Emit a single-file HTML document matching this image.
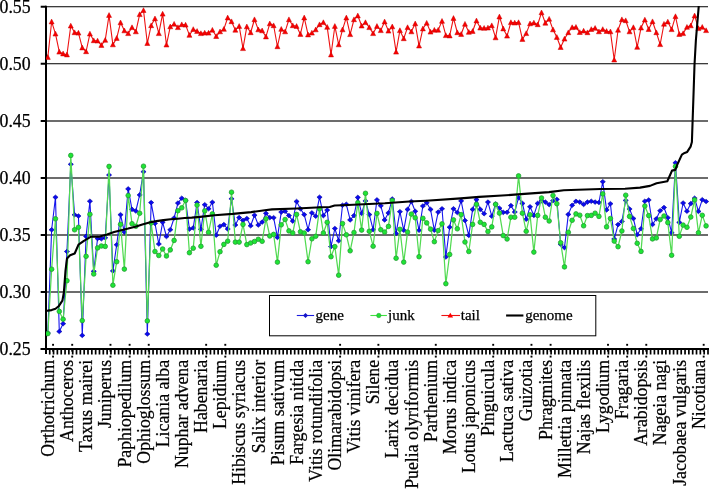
<!DOCTYPE html><html><head><meta charset="utf-8"><style>html,body{margin:0;padding:0;background:#fff;}svg{display:block;}text{font-family:'Liberation Serif', serif;stroke:#000;stroke-width:0.25px;}svg{will-change:transform;}</style></head><body>
<svg width="709" height="489" viewBox="0 0 709 489">
<rect width="709" height="489" fill="#fff"/>
<defs><clipPath id="pa"><rect x="46" y="6.10" width="663.00" height="348.40"/></clipPath></defs>
<rect x="47" y="6.240" width="661.0" height="1.0" fill="#000"/>
<rect x="47" y="63.240" width="661.0" height="1.0" fill="#000"/>
<rect x="47" y="120.425" width="661.0" height="1.15" fill="#000"/>
<rect x="47" y="177.425" width="661.0" height="1.15" fill="#000"/>
<rect x="47" y="234.425" width="661.0" height="1.15" fill="#000"/>
<rect x="47" y="291.425" width="661.0" height="1.15" fill="#000"/>
<text x="30.6" y="12.84" font-size="17.8" text-anchor="end" fill="#000">0.55</text>
<text x="30.6" y="69.84" font-size="17.8" text-anchor="end" fill="#000">0.50</text>
<text x="30.6" y="127.10" font-size="17.8" text-anchor="end" fill="#000">0.45</text>
<text x="30.6" y="184.10" font-size="17.8" text-anchor="end" fill="#000">0.40</text>
<text x="30.6" y="241.10" font-size="17.8" text-anchor="end" fill="#000">0.35</text>
<text x="30.6" y="298.10" font-size="17.8" text-anchor="end" fill="#000">0.30</text>
<text x="30.6" y="355.10" font-size="17.8" text-anchor="end" fill="#000">0.25</text>
<line x1="46" y1="5.80" x2="46" y2="354" stroke="#000" stroke-width="2"/>
<line x1="40.7" y1="6.74" x2="46" y2="6.74" stroke="#000" stroke-width="2"/>
<line x1="40.7" y1="63.74" x2="46" y2="63.74" stroke="#000" stroke-width="2"/>
<line x1="40.7" y1="121.00" x2="46" y2="121.00" stroke="#000" stroke-width="2"/>
<line x1="40.7" y1="178.00" x2="46" y2="178.00" stroke="#000" stroke-width="2"/>
<line x1="40.7" y1="235.00" x2="46" y2="235.00" stroke="#000" stroke-width="2"/>
<line x1="40.7" y1="292.00" x2="46" y2="292.00" stroke="#000" stroke-width="2"/>
<line x1="40.7" y1="349.00" x2="46" y2="349.00" stroke="#000" stroke-width="2"/>
<line x1="40.7" y1="349.0" x2="709" y2="349.0" stroke="#000" stroke-width="2"/>
<path d="M49.73 349.0V354.6 M53.55 349.0V354.6 M57.38 349.0V354.6 M61.21 349.0V354.6 M65.04 349.0V354.6 M68.86 349.0V354.6 M72.69 349.0V354.6 M76.52 349.0V354.6 M80.34 349.0V354.6 M84.17 349.0V354.6 M88.00 349.0V354.6 M91.83 349.0V354.6 M95.65 349.0V354.6 M99.48 349.0V354.6 M103.31 349.0V354.6 M107.13 349.0V354.6 M110.96 349.0V354.6 M114.79 349.0V354.6 M118.62 349.0V354.6 M122.44 349.0V354.6 M126.27 349.0V354.6 M130.10 349.0V354.6 M133.92 349.0V354.6 M137.75 349.0V354.6 M141.58 349.0V354.6 M145.41 349.0V354.6 M149.23 349.0V354.6 M153.06 349.0V354.6 M156.89 349.0V354.6 M160.72 349.0V354.6 M164.54 349.0V354.6 M168.37 349.0V354.6 M172.20 349.0V354.6 M176.02 349.0V354.6 M179.85 349.0V354.6 M183.68 349.0V354.6 M187.51 349.0V354.6 M191.33 349.0V354.6 M195.16 349.0V354.6 M198.99 349.0V354.6 M202.81 349.0V354.6 M206.64 349.0V354.6 M210.47 349.0V354.6 M214.30 349.0V354.6 M218.12 349.0V354.6 M221.95 349.0V354.6 M225.78 349.0V354.6 M229.60 349.0V354.6 M233.43 349.0V354.6 M237.26 349.0V354.6 M241.09 349.0V354.6 M244.91 349.0V354.6 M248.74 349.0V354.6 M252.57 349.0V354.6 M256.39 349.0V354.6 M260.22 349.0V354.6 M264.05 349.0V354.6 M267.88 349.0V354.6 M271.70 349.0V354.6 M275.53 349.0V354.6 M279.36 349.0V354.6 M283.18 349.0V354.6 M287.01 349.0V354.6 M290.84 349.0V354.6 M294.67 349.0V354.6 M298.49 349.0V354.6 M302.32 349.0V354.6 M306.15 349.0V354.6 M309.97 349.0V354.6 M313.80 349.0V354.6 M317.63 349.0V354.6 M321.46 349.0V354.6 M325.28 349.0V354.6 M329.11 349.0V354.6 M332.94 349.0V354.6 M336.76 349.0V354.6 M340.59 349.0V354.6 M344.42 349.0V354.6 M348.25 349.0V354.6 M352.07 349.0V354.6 M355.90 349.0V354.6 M359.73 349.0V354.6 M363.55 349.0V354.6 M367.38 349.0V354.6 M371.21 349.0V354.6 M375.04 349.0V354.6 M378.86 349.0V354.6 M382.69 349.0V354.6 M386.52 349.0V354.6 M390.35 349.0V354.6 M394.17 349.0V354.6 M398.00 349.0V354.6 M401.83 349.0V354.6 M405.65 349.0V354.6 M409.48 349.0V354.6 M413.31 349.0V354.6 M417.14 349.0V354.6 M420.96 349.0V354.6 M424.79 349.0V354.6 M428.62 349.0V354.6 M432.44 349.0V354.6 M436.27 349.0V354.6 M440.10 349.0V354.6 M443.93 349.0V354.6 M447.75 349.0V354.6 M451.58 349.0V354.6 M455.41 349.0V354.6 M459.23 349.0V354.6 M463.06 349.0V354.6 M466.89 349.0V354.6 M470.72 349.0V354.6 M474.54 349.0V354.6 M478.37 349.0V354.6 M482.20 349.0V354.6 M486.02 349.0V354.6 M489.85 349.0V354.6 M493.68 349.0V354.6 M497.51 349.0V354.6 M501.33 349.0V354.6 M505.16 349.0V354.6 M508.99 349.0V354.6 M512.81 349.0V354.6 M516.64 349.0V354.6 M520.47 349.0V354.6 M524.30 349.0V354.6 M528.12 349.0V354.6 M531.95 349.0V354.6 M535.78 349.0V354.6 M539.60 349.0V354.6 M543.43 349.0V354.6 M547.26 349.0V354.6 M551.09 349.0V354.6 M554.91 349.0V354.6 M558.74 349.0V354.6 M562.57 349.0V354.6 M566.39 349.0V354.6 M570.22 349.0V354.6 M574.05 349.0V354.6 M577.88 349.0V354.6 M581.70 349.0V354.6 M585.53 349.0V354.6 M589.36 349.0V354.6 M593.18 349.0V354.6 M597.01 349.0V354.6 M600.84 349.0V354.6 M604.67 349.0V354.6 M608.49 349.0V354.6 M612.32 349.0V354.6 M616.15 349.0V354.6 M619.98 349.0V354.6 M623.80 349.0V354.6 M627.63 349.0V354.6 M631.46 349.0V354.6 M635.28 349.0V354.6 M639.11 349.0V354.6 M642.94 349.0V354.6 M646.77 349.0V354.6 M650.59 349.0V354.6 M654.42 349.0V354.6 M658.25 349.0V354.6 M662.07 349.0V354.6 M665.90 349.0V354.6 M669.73 349.0V354.6 M673.56 349.0V354.6 M677.38 349.0V354.6 M681.21 349.0V354.6 M685.04 349.0V354.6 M688.86 349.0V354.6 M692.69 349.0V354.6 M696.52 349.0V354.6 M700.35 349.0V354.6 M704.17 349.0V354.6 M708.00 349.0V354.6" stroke="#000" stroke-width="1.7" fill="none"/>
<g clip-path="url(#pa)">
<polyline points="47.81,333.00 51.64,229.80 55.47,197.30 59.30,331.50 63.12,323.70 66.95,251.50 70.78,164.30 74.60,214.80 78.43,216.00 82.26,335.40 86.09,236.40 89.91,201.20 93.74,271.30 97.57,238.50 101.39,238.80 105.22,237.80 109.05,175.00 112.88,270.90 116.70,244.80 120.53,214.70 124.36,232.10 128.18,188.90 132.01,209.40 135.84,211.00 139.67,194.90 143.49,171.70 147.32,334.00 151.15,202.60 154.97,223.40 158.80,244.00 162.63,222.30 166.46,236.50 170.28,229.70 174.11,218.00 177.94,203.10 181.76,198.20 185.59,200.50 189.42,229.10 193.25,227.90 197.07,202.50 200.90,229.30 204.73,204.70 208.55,208.70 212.38,202.30 216.21,235.20 220.04,226.20 223.86,224.60 227.69,229.00 231.52,198.80 235.34,225.00 239.17,217.60 243.00,220.40 246.83,218.50 250.65,225.80 254.48,215.20 258.31,225.00 262.13,222.10 265.96,213.30 269.79,217.60 273.62,217.70 277.44,237.40 281.27,212.10 285.10,211.30 288.93,215.60 292.75,221.10 296.58,201.50 300.41,208.80 304.23,214.60 308.06,229.70 311.89,212.90 315.72,216.20 319.54,197.20 323.37,215.60 327.20,210.10 331.02,246.60 334.85,228.50 338.68,240.80 342.51,205.20 346.33,204.30 350.16,219.90 353.99,215.60 357.81,197.40 361.64,213.40 365.47,200.90 369.30,214.60 373.12,229.70 376.95,199.90 380.78,205.80 384.60,219.90 388.43,212.90 392.26,199.00 396.09,233.40 399.91,211.70 403.74,230.30 407.57,209.40 411.39,201.50 415.22,211.30 419.05,230.30 422.88,206.00 426.70,202.70 430.53,209.40 434.36,230.30 438.18,212.10 442.01,208.80 445.84,257.00 449.67,227.20 453.49,208.80 457.32,212.50 461.15,200.90 464.97,220.50 468.80,235.40 472.63,209.40 476.46,199.60 480.28,209.40 484.11,213.70 487.94,202.10 491.77,216.20 495.59,204.00 499.42,208.20 503.25,212.40 507.07,212.30 510.90,205.60 514.73,212.00 518.56,197.60 522.38,203.40 526.21,219.30 530.04,206.80 533.86,215.40 537.69,203.40 541.52,200.70 545.35,202.10 549.17,204.60 553.00,200.70 556.83,199.40 560.65,244.30 564.48,247.60 568.31,214.40 572.14,205.30 575.96,201.30 579.79,202.10 583.62,204.40 587.44,202.10 591.27,201.30 595.10,202.10 598.93,202.50 602.75,181.70 606.58,209.90 610.41,203.70 614.23,239.00 618.06,224.60 621.89,221.40 625.72,200.40 629.54,209.00 633.37,218.50 637.20,234.70 641.02,228.80 644.85,201.20 648.68,200.00 652.51,224.50 656.33,218.80 660.16,210.70 663.99,207.50 667.81,217.70 671.64,232.70 675.47,162.80 679.30,222.40 683.12,203.00 686.95,211.20 690.78,203.60 694.60,198.20 698.43,211.40 702.26,199.70 706.09,201.50" fill="none" stroke="#1515ee" stroke-width="1.1" stroke-linejoin="round"/>
<path d="M47.81 330.70L50.41 333.00L47.81 335.30L45.21 333.00ZM51.64 227.50L54.24 229.80L51.64 232.10L49.04 229.80ZM55.47 195.00L58.07 197.30L55.47 199.60L52.87 197.30ZM59.30 329.20L61.90 331.50L59.30 333.80L56.70 331.50ZM63.12 321.40L65.72 323.70L63.12 326.00L60.52 323.70ZM66.95 249.20L69.55 251.50L66.95 253.80L64.35 251.50ZM70.78 162.00L73.38 164.30L70.78 166.60L68.18 164.30ZM74.60 212.50L77.20 214.80L74.60 217.10L72.00 214.80ZM78.43 213.70L81.03 216.00L78.43 218.30L75.83 216.00ZM82.26 333.10L84.86 335.40L82.26 337.70L79.66 335.40ZM86.09 234.10L88.69 236.40L86.09 238.70L83.49 236.40ZM89.91 198.90L92.51 201.20L89.91 203.50L87.31 201.20ZM93.74 269.00L96.34 271.30L93.74 273.60L91.14 271.30ZM97.57 236.20L100.17 238.50L97.57 240.80L94.97 238.50ZM101.39 236.50L103.99 238.80L101.39 241.10L98.79 238.80ZM105.22 235.50L107.82 237.80L105.22 240.10L102.62 237.80ZM109.05 172.70L111.65 175.00L109.05 177.30L106.45 175.00ZM112.88 268.60L115.48 270.90L112.88 273.20L110.28 270.90ZM116.70 242.50L119.30 244.80L116.70 247.10L114.10 244.80ZM120.53 212.40L123.13 214.70L120.53 217.00L117.93 214.70ZM124.36 229.80L126.96 232.10L124.36 234.40L121.76 232.10ZM128.18 186.60L130.78 188.90L128.18 191.20L125.58 188.90ZM132.01 207.10L134.61 209.40L132.01 211.70L129.41 209.40ZM135.84 208.70L138.44 211.00L135.84 213.30L133.24 211.00ZM139.67 192.60L142.27 194.90L139.67 197.20L137.07 194.90ZM143.49 169.40L146.09 171.70L143.49 174.00L140.89 171.70ZM147.32 331.70L149.92 334.00L147.32 336.30L144.72 334.00ZM151.15 200.30L153.75 202.60L151.15 204.90L148.55 202.60ZM154.97 221.10L157.57 223.40L154.97 225.70L152.37 223.40ZM158.80 241.70L161.40 244.00L158.80 246.30L156.20 244.00ZM162.63 220.00L165.23 222.30L162.63 224.60L160.03 222.30ZM166.46 234.20L169.06 236.50L166.46 238.80L163.86 236.50ZM170.28 227.40L172.88 229.70L170.28 232.00L167.68 229.70ZM174.11 215.70L176.71 218.00L174.11 220.30L171.51 218.00ZM177.94 200.80L180.54 203.10L177.94 205.40L175.34 203.10ZM181.76 195.90L184.36 198.20L181.76 200.50L179.16 198.20ZM185.59 198.20L188.19 200.50L185.59 202.80L182.99 200.50ZM189.42 226.80L192.02 229.10L189.42 231.40L186.82 229.10ZM193.25 225.60L195.85 227.90L193.25 230.20L190.65 227.90ZM197.07 200.20L199.67 202.50L197.07 204.80L194.47 202.50ZM200.90 227.00L203.50 229.30L200.90 231.60L198.30 229.30ZM204.73 202.40L207.33 204.70L204.73 207.00L202.13 204.70ZM208.55 206.40L211.15 208.70L208.55 211.00L205.95 208.70ZM212.38 200.00L214.98 202.30L212.38 204.60L209.78 202.30ZM216.21 232.90L218.81 235.20L216.21 237.50L213.61 235.20ZM220.04 223.90L222.64 226.20L220.04 228.50L217.44 226.20ZM223.86 222.30L226.46 224.60L223.86 226.90L221.26 224.60ZM227.69 226.70L230.29 229.00L227.69 231.30L225.09 229.00ZM231.52 196.50L234.12 198.80L231.52 201.10L228.92 198.80ZM235.34 222.70L237.94 225.00L235.34 227.30L232.74 225.00ZM239.17 215.30L241.77 217.60L239.17 219.90L236.57 217.60ZM243.00 218.10L245.60 220.40L243.00 222.70L240.40 220.40ZM246.83 216.20L249.43 218.50L246.83 220.80L244.23 218.50ZM250.65 223.50L253.25 225.80L250.65 228.10L248.05 225.80ZM254.48 212.90L257.08 215.20L254.48 217.50L251.88 215.20ZM258.31 222.70L260.91 225.00L258.31 227.30L255.71 225.00ZM262.13 219.80L264.73 222.10L262.13 224.40L259.53 222.10ZM265.96 211.00L268.56 213.30L265.96 215.60L263.36 213.30ZM269.79 215.30L272.39 217.60L269.79 219.90L267.19 217.60ZM273.62 215.40L276.22 217.70L273.62 220.00L271.02 217.70ZM277.44 235.10L280.04 237.40L277.44 239.70L274.84 237.40ZM281.27 209.80L283.87 212.10L281.27 214.40L278.67 212.10ZM285.10 209.00L287.70 211.30L285.10 213.60L282.50 211.30ZM288.93 213.30L291.53 215.60L288.93 217.90L286.33 215.60ZM292.75 218.80L295.35 221.10L292.75 223.40L290.15 221.10ZM296.58 199.20L299.18 201.50L296.58 203.80L293.98 201.50ZM300.41 206.50L303.01 208.80L300.41 211.10L297.81 208.80ZM304.23 212.30L306.83 214.60L304.23 216.90L301.63 214.60ZM308.06 227.40L310.66 229.70L308.06 232.00L305.46 229.70ZM311.89 210.60L314.49 212.90L311.89 215.20L309.29 212.90ZM315.72 213.90L318.32 216.20L315.72 218.50L313.12 216.20ZM319.54 194.90L322.14 197.20L319.54 199.50L316.94 197.20ZM323.37 213.30L325.97 215.60L323.37 217.90L320.77 215.60ZM327.20 207.80L329.80 210.10L327.20 212.40L324.60 210.10ZM331.02 244.30L333.62 246.60L331.02 248.90L328.42 246.60ZM334.85 226.20L337.45 228.50L334.85 230.80L332.25 228.50ZM338.68 238.50L341.28 240.80L338.68 243.10L336.08 240.80ZM342.51 202.90L345.11 205.20L342.51 207.50L339.91 205.20ZM346.33 202.00L348.93 204.30L346.33 206.60L343.73 204.30ZM350.16 217.60L352.76 219.90L350.16 222.20L347.56 219.90ZM353.99 213.30L356.59 215.60L353.99 217.90L351.39 215.60ZM357.81 195.10L360.41 197.40L357.81 199.70L355.21 197.40ZM361.64 211.10L364.24 213.40L361.64 215.70L359.04 213.40ZM365.47 198.60L368.07 200.90L365.47 203.20L362.87 200.90ZM369.30 212.30L371.90 214.60L369.30 216.90L366.70 214.60ZM373.12 227.40L375.72 229.70L373.12 232.00L370.52 229.70ZM376.95 197.60L379.55 199.90L376.95 202.20L374.35 199.90ZM380.78 203.50L383.38 205.80L380.78 208.10L378.18 205.80ZM384.60 217.60L387.20 219.90L384.60 222.20L382.00 219.90ZM388.43 210.60L391.03 212.90L388.43 215.20L385.83 212.90ZM392.26 196.70L394.86 199.00L392.26 201.30L389.66 199.00ZM396.09 231.10L398.69 233.40L396.09 235.70L393.49 233.40ZM399.91 209.40L402.51 211.70L399.91 214.00L397.31 211.70ZM403.74 228.00L406.34 230.30L403.74 232.60L401.14 230.30ZM407.57 207.10L410.17 209.40L407.57 211.70L404.97 209.40ZM411.39 199.20L413.99 201.50L411.39 203.80L408.79 201.50ZM415.22 209.00L417.82 211.30L415.22 213.60L412.62 211.30ZM419.05 228.00L421.65 230.30L419.05 232.60L416.45 230.30ZM422.88 203.70L425.48 206.00L422.88 208.30L420.28 206.00ZM426.70 200.40L429.30 202.70L426.70 205.00L424.10 202.70ZM430.53 207.10L433.13 209.40L430.53 211.70L427.93 209.40ZM434.36 228.00L436.96 230.30L434.36 232.60L431.76 230.30ZM438.18 209.80L440.78 212.10L438.18 214.40L435.58 212.10ZM442.01 206.50L444.61 208.80L442.01 211.10L439.41 208.80ZM445.84 254.70L448.44 257.00L445.84 259.30L443.24 257.00ZM449.67 224.90L452.27 227.20L449.67 229.50L447.07 227.20ZM453.49 206.50L456.09 208.80L453.49 211.10L450.89 208.80ZM457.32 210.20L459.92 212.50L457.32 214.80L454.72 212.50ZM461.15 198.60L463.75 200.90L461.15 203.20L458.55 200.90ZM464.97 218.20L467.57 220.50L464.97 222.80L462.37 220.50ZM468.80 233.10L471.40 235.40L468.80 237.70L466.20 235.40ZM472.63 207.10L475.23 209.40L472.63 211.70L470.03 209.40ZM476.46 197.30L479.06 199.60L476.46 201.90L473.86 199.60ZM480.28 207.10L482.88 209.40L480.28 211.70L477.68 209.40ZM484.11 211.40L486.71 213.70L484.11 216.00L481.51 213.70ZM487.94 199.80L490.54 202.10L487.94 204.40L485.34 202.10ZM491.77 213.90L494.37 216.20L491.77 218.50L489.17 216.20ZM495.59 201.70L498.19 204.00L495.59 206.30L492.99 204.00ZM499.42 205.90L502.02 208.20L499.42 210.50L496.82 208.20ZM503.25 210.10L505.85 212.40L503.25 214.70L500.65 212.40ZM507.07 210.00L509.67 212.30L507.07 214.60L504.47 212.30ZM510.90 203.30L513.50 205.60L510.90 207.90L508.30 205.60ZM514.73 209.70L517.33 212.00L514.73 214.30L512.13 212.00ZM518.56 195.30L521.16 197.60L518.56 199.90L515.96 197.60ZM522.38 201.10L524.98 203.40L522.38 205.70L519.78 203.40ZM526.21 217.00L528.81 219.30L526.21 221.60L523.61 219.30ZM530.04 204.50L532.64 206.80L530.04 209.10L527.44 206.80ZM533.86 213.10L536.46 215.40L533.86 217.70L531.26 215.40ZM537.69 201.10L540.29 203.40L537.69 205.70L535.09 203.40ZM541.52 198.40L544.12 200.70L541.52 203.00L538.92 200.70ZM545.35 199.80L547.95 202.10L545.35 204.40L542.75 202.10ZM549.17 202.30L551.77 204.60L549.17 206.90L546.57 204.60ZM553.00 198.40L555.60 200.70L553.00 203.00L550.40 200.70ZM556.83 197.10L559.43 199.40L556.83 201.70L554.23 199.40ZM560.65 242.00L563.25 244.30L560.65 246.60L558.05 244.30ZM564.48 245.30L567.08 247.60L564.48 249.90L561.88 247.60ZM568.31 212.10L570.91 214.40L568.31 216.70L565.71 214.40ZM572.14 203.00L574.74 205.30L572.14 207.60L569.54 205.30ZM575.96 199.00L578.56 201.30L575.96 203.60L573.36 201.30ZM579.79 199.80L582.39 202.10L579.79 204.40L577.19 202.10ZM583.62 202.10L586.22 204.40L583.62 206.70L581.02 204.40ZM587.44 199.80L590.04 202.10L587.44 204.40L584.84 202.10ZM591.27 199.00L593.87 201.30L591.27 203.60L588.67 201.30ZM595.10 199.80L597.70 202.10L595.10 204.40L592.50 202.10ZM598.93 200.20L601.53 202.50L598.93 204.80L596.33 202.50ZM602.75 179.40L605.35 181.70L602.75 184.00L600.15 181.70ZM606.58 207.60L609.18 209.90L606.58 212.20L603.98 209.90ZM610.41 201.40L613.01 203.70L610.41 206.00L607.81 203.70ZM614.23 236.70L616.83 239.00L614.23 241.30L611.63 239.00ZM618.06 222.30L620.66 224.60L618.06 226.90L615.46 224.60ZM621.89 219.10L624.49 221.40L621.89 223.70L619.29 221.40ZM625.72 198.10L628.32 200.40L625.72 202.70L623.12 200.40ZM629.54 206.70L632.14 209.00L629.54 211.30L626.94 209.00ZM633.37 216.20L635.97 218.50L633.37 220.80L630.77 218.50ZM637.20 232.40L639.80 234.70L637.20 237.00L634.60 234.70ZM641.02 226.50L643.62 228.80L641.02 231.10L638.42 228.80ZM644.85 198.90L647.45 201.20L644.85 203.50L642.25 201.20ZM648.68 197.70L651.28 200.00L648.68 202.30L646.08 200.00ZM652.51 222.20L655.11 224.50L652.51 226.80L649.91 224.50ZM656.33 216.50L658.93 218.80L656.33 221.10L653.73 218.80ZM660.16 208.40L662.76 210.70L660.16 213.00L657.56 210.70ZM663.99 205.20L666.59 207.50L663.99 209.80L661.39 207.50ZM667.81 215.40L670.41 217.70L667.81 220.00L665.21 217.70ZM671.64 230.40L674.24 232.70L671.64 235.00L669.04 232.70ZM675.47 160.50L678.07 162.80L675.47 165.10L672.87 162.80ZM679.30 220.10L681.90 222.40L679.30 224.70L676.70 222.40ZM683.12 200.70L685.72 203.00L683.12 205.30L680.52 203.00ZM686.95 208.90L689.55 211.20L686.95 213.50L684.35 211.20ZM690.78 201.30L693.38 203.60L690.78 205.90L688.18 203.60ZM694.60 195.90L697.20 198.20L694.60 200.50L692.00 198.20ZM698.43 209.10L701.03 211.40L698.43 213.70L695.83 211.40ZM702.26 197.40L704.86 199.70L702.26 202.00L699.66 199.70ZM706.09 199.20L708.69 201.50L706.09 203.80L703.49 201.50Z" fill="#0a0af0" stroke="#0000a0" stroke-width="0.6"/>
<polyline points="47.81,333.60 51.64,269.20 55.47,218.80 59.30,311.40 63.12,319.20 66.95,280.70 70.78,155.40 74.60,229.80 78.43,227.30 82.26,320.60 86.09,256.30 89.91,214.30 93.74,274.00 97.57,247.90 101.39,246.00 105.22,246.40 109.05,166.40 112.88,285.20 116.70,261.70 120.53,224.30 124.36,269.10 128.18,195.50 132.01,223.70 135.84,226.30 139.67,213.30 143.49,166.20 147.32,320.90 151.15,223.00 154.97,251.50 158.80,255.50 162.63,249.00 166.46,256.00 170.28,249.90 174.11,240.40 177.94,210.70 181.76,207.80 185.59,200.50 189.42,252.70 193.25,248.20 197.07,205.10 200.90,246.30 204.73,210.90 208.55,232.30 212.38,213.90 216.21,265.20 220.04,251.70 223.86,244.40 227.69,241.20 231.52,192.20 235.34,242.10 239.17,242.10 243.00,224.40 246.83,244.60 250.65,243.00 254.48,241.50 258.31,239.30 262.13,241.30 265.96,218.80 269.79,236.00 273.62,234.40 277.44,262.10 281.27,224.80 285.10,219.50 288.93,230.90 292.75,233.00 296.58,214.40 300.41,231.80 304.23,233.00 308.06,261.70 311.89,238.80 315.72,236.30 319.54,208.80 323.37,233.00 327.20,222.30 331.02,256.70 334.85,246.60 338.68,275.20 342.51,223.60 346.33,234.80 350.16,250.80 353.99,232.50 357.81,202.70 361.64,230.10 365.47,193.30 369.30,231.30 373.12,246.20 376.95,213.40 380.78,229.70 384.60,232.10 388.43,226.40 392.26,200.60 396.09,258.20 399.91,229.30 403.74,262.10 407.57,232.10 411.39,214.10 415.22,217.80 419.05,256.70 422.88,218.30 426.70,222.90 430.53,229.10 434.36,241.70 438.18,230.60 442.01,223.90 445.84,283.70 449.67,254.50 453.49,219.90 457.32,228.80 461.15,214.60 464.97,242.00 468.80,251.50 472.63,224.40 476.46,204.30 480.28,222.30 484.11,224.40 487.94,231.50 491.77,226.90 495.59,204.30 499.42,213.10 503.25,235.60 507.07,239.00 510.90,217.20 514.73,217.20 518.56,175.90 522.38,213.20 526.21,231.30 530.04,214.80 533.86,252.10 537.69,215.40 541.52,198.00 545.35,217.20 549.17,221.00 553.00,195.50 556.83,203.70 560.65,242.70 564.48,266.90 568.31,232.30 572.14,220.30 575.96,213.90 579.79,215.20 583.62,225.80 587.44,215.60 591.27,215.40 595.10,213.20 598.93,216.40 602.75,193.90 606.58,226.90 610.41,218.50 614.23,241.10 618.06,246.70 621.89,231.00 625.72,195.20 629.54,216.40 633.37,228.50 637.20,243.30 641.02,251.40 644.85,206.00 648.68,215.60 652.51,238.90 656.33,237.90 660.16,219.50 663.99,216.00 667.81,222.60 671.64,255.30 675.47,166.40 679.30,236.30 683.12,225.10 686.95,227.30 690.78,217.00 694.60,199.90 698.43,232.70 702.26,215.30 706.09,225.90" fill="none" stroke="#52da52" stroke-width="1.25" stroke-linejoin="round"/>
<circle cx="47.81" cy="333.60" r="2.3" fill="#1ee634" stroke="#259a35" stroke-width="0.8"/>
<circle cx="51.64" cy="269.20" r="2.3" fill="#1ee634" stroke="#259a35" stroke-width="0.8"/>
<circle cx="55.47" cy="218.80" r="2.3" fill="#1ee634" stroke="#259a35" stroke-width="0.8"/>
<circle cx="59.30" cy="311.40" r="2.3" fill="#1ee634" stroke="#259a35" stroke-width="0.8"/>
<circle cx="63.12" cy="319.20" r="2.3" fill="#1ee634" stroke="#259a35" stroke-width="0.8"/>
<circle cx="66.95" cy="280.70" r="2.3" fill="#1ee634" stroke="#259a35" stroke-width="0.8"/>
<circle cx="70.78" cy="155.40" r="2.3" fill="#1ee634" stroke="#259a35" stroke-width="0.8"/>
<circle cx="74.60" cy="229.80" r="2.3" fill="#1ee634" stroke="#259a35" stroke-width="0.8"/>
<circle cx="78.43" cy="227.30" r="2.3" fill="#1ee634" stroke="#259a35" stroke-width="0.8"/>
<circle cx="82.26" cy="320.60" r="2.3" fill="#1ee634" stroke="#259a35" stroke-width="0.8"/>
<circle cx="86.09" cy="256.30" r="2.3" fill="#1ee634" stroke="#259a35" stroke-width="0.8"/>
<circle cx="89.91" cy="214.30" r="2.3" fill="#1ee634" stroke="#259a35" stroke-width="0.8"/>
<circle cx="93.74" cy="274.00" r="2.3" fill="#1ee634" stroke="#259a35" stroke-width="0.8"/>
<circle cx="97.57" cy="247.90" r="2.3" fill="#1ee634" stroke="#259a35" stroke-width="0.8"/>
<circle cx="101.39" cy="246.00" r="2.3" fill="#1ee634" stroke="#259a35" stroke-width="0.8"/>
<circle cx="105.22" cy="246.40" r="2.3" fill="#1ee634" stroke="#259a35" stroke-width="0.8"/>
<circle cx="109.05" cy="166.40" r="2.3" fill="#1ee634" stroke="#259a35" stroke-width="0.8"/>
<circle cx="112.88" cy="285.20" r="2.3" fill="#1ee634" stroke="#259a35" stroke-width="0.8"/>
<circle cx="116.70" cy="261.70" r="2.3" fill="#1ee634" stroke="#259a35" stroke-width="0.8"/>
<circle cx="120.53" cy="224.30" r="2.3" fill="#1ee634" stroke="#259a35" stroke-width="0.8"/>
<circle cx="124.36" cy="269.10" r="2.3" fill="#1ee634" stroke="#259a35" stroke-width="0.8"/>
<circle cx="128.18" cy="195.50" r="2.3" fill="#1ee634" stroke="#259a35" stroke-width="0.8"/>
<circle cx="132.01" cy="223.70" r="2.3" fill="#1ee634" stroke="#259a35" stroke-width="0.8"/>
<circle cx="135.84" cy="226.30" r="2.3" fill="#1ee634" stroke="#259a35" stroke-width="0.8"/>
<circle cx="139.67" cy="213.30" r="2.3" fill="#1ee634" stroke="#259a35" stroke-width="0.8"/>
<circle cx="143.49" cy="166.20" r="2.3" fill="#1ee634" stroke="#259a35" stroke-width="0.8"/>
<circle cx="147.32" cy="320.90" r="2.3" fill="#1ee634" stroke="#259a35" stroke-width="0.8"/>
<circle cx="151.15" cy="223.00" r="2.3" fill="#1ee634" stroke="#259a35" stroke-width="0.8"/>
<circle cx="154.97" cy="251.50" r="2.3" fill="#1ee634" stroke="#259a35" stroke-width="0.8"/>
<circle cx="158.80" cy="255.50" r="2.3" fill="#1ee634" stroke="#259a35" stroke-width="0.8"/>
<circle cx="162.63" cy="249.00" r="2.3" fill="#1ee634" stroke="#259a35" stroke-width="0.8"/>
<circle cx="166.46" cy="256.00" r="2.3" fill="#1ee634" stroke="#259a35" stroke-width="0.8"/>
<circle cx="170.28" cy="249.90" r="2.3" fill="#1ee634" stroke="#259a35" stroke-width="0.8"/>
<circle cx="174.11" cy="240.40" r="2.3" fill="#1ee634" stroke="#259a35" stroke-width="0.8"/>
<circle cx="177.94" cy="210.70" r="2.3" fill="#1ee634" stroke="#259a35" stroke-width="0.8"/>
<circle cx="181.76" cy="207.80" r="2.3" fill="#1ee634" stroke="#259a35" stroke-width="0.8"/>
<circle cx="185.59" cy="200.50" r="2.3" fill="#1ee634" stroke="#259a35" stroke-width="0.8"/>
<circle cx="189.42" cy="252.70" r="2.3" fill="#1ee634" stroke="#259a35" stroke-width="0.8"/>
<circle cx="193.25" cy="248.20" r="2.3" fill="#1ee634" stroke="#259a35" stroke-width="0.8"/>
<circle cx="197.07" cy="205.10" r="2.3" fill="#1ee634" stroke="#259a35" stroke-width="0.8"/>
<circle cx="200.90" cy="246.30" r="2.3" fill="#1ee634" stroke="#259a35" stroke-width="0.8"/>
<circle cx="204.73" cy="210.90" r="2.3" fill="#1ee634" stroke="#259a35" stroke-width="0.8"/>
<circle cx="208.55" cy="232.30" r="2.3" fill="#1ee634" stroke="#259a35" stroke-width="0.8"/>
<circle cx="212.38" cy="213.90" r="2.3" fill="#1ee634" stroke="#259a35" stroke-width="0.8"/>
<circle cx="216.21" cy="265.20" r="2.3" fill="#1ee634" stroke="#259a35" stroke-width="0.8"/>
<circle cx="220.04" cy="251.70" r="2.3" fill="#1ee634" stroke="#259a35" stroke-width="0.8"/>
<circle cx="223.86" cy="244.40" r="2.3" fill="#1ee634" stroke="#259a35" stroke-width="0.8"/>
<circle cx="227.69" cy="241.20" r="2.3" fill="#1ee634" stroke="#259a35" stroke-width="0.8"/>
<circle cx="231.52" cy="192.20" r="2.3" fill="#1ee634" stroke="#259a35" stroke-width="0.8"/>
<circle cx="235.34" cy="242.10" r="2.3" fill="#1ee634" stroke="#259a35" stroke-width="0.8"/>
<circle cx="239.17" cy="242.10" r="2.3" fill="#1ee634" stroke="#259a35" stroke-width="0.8"/>
<circle cx="243.00" cy="224.40" r="2.3" fill="#1ee634" stroke="#259a35" stroke-width="0.8"/>
<circle cx="246.83" cy="244.60" r="2.3" fill="#1ee634" stroke="#259a35" stroke-width="0.8"/>
<circle cx="250.65" cy="243.00" r="2.3" fill="#1ee634" stroke="#259a35" stroke-width="0.8"/>
<circle cx="254.48" cy="241.50" r="2.3" fill="#1ee634" stroke="#259a35" stroke-width="0.8"/>
<circle cx="258.31" cy="239.30" r="2.3" fill="#1ee634" stroke="#259a35" stroke-width="0.8"/>
<circle cx="262.13" cy="241.30" r="2.3" fill="#1ee634" stroke="#259a35" stroke-width="0.8"/>
<circle cx="265.96" cy="218.80" r="2.3" fill="#1ee634" stroke="#259a35" stroke-width="0.8"/>
<circle cx="269.79" cy="236.00" r="2.3" fill="#1ee634" stroke="#259a35" stroke-width="0.8"/>
<circle cx="273.62" cy="234.40" r="2.3" fill="#1ee634" stroke="#259a35" stroke-width="0.8"/>
<circle cx="277.44" cy="262.10" r="2.3" fill="#1ee634" stroke="#259a35" stroke-width="0.8"/>
<circle cx="281.27" cy="224.80" r="2.3" fill="#1ee634" stroke="#259a35" stroke-width="0.8"/>
<circle cx="285.10" cy="219.50" r="2.3" fill="#1ee634" stroke="#259a35" stroke-width="0.8"/>
<circle cx="288.93" cy="230.90" r="2.3" fill="#1ee634" stroke="#259a35" stroke-width="0.8"/>
<circle cx="292.75" cy="233.00" r="2.3" fill="#1ee634" stroke="#259a35" stroke-width="0.8"/>
<circle cx="296.58" cy="214.40" r="2.3" fill="#1ee634" stroke="#259a35" stroke-width="0.8"/>
<circle cx="300.41" cy="231.80" r="2.3" fill="#1ee634" stroke="#259a35" stroke-width="0.8"/>
<circle cx="304.23" cy="233.00" r="2.3" fill="#1ee634" stroke="#259a35" stroke-width="0.8"/>
<circle cx="308.06" cy="261.70" r="2.3" fill="#1ee634" stroke="#259a35" stroke-width="0.8"/>
<circle cx="311.89" cy="238.80" r="2.3" fill="#1ee634" stroke="#259a35" stroke-width="0.8"/>
<circle cx="315.72" cy="236.30" r="2.3" fill="#1ee634" stroke="#259a35" stroke-width="0.8"/>
<circle cx="319.54" cy="208.80" r="2.3" fill="#1ee634" stroke="#259a35" stroke-width="0.8"/>
<circle cx="323.37" cy="233.00" r="2.3" fill="#1ee634" stroke="#259a35" stroke-width="0.8"/>
<circle cx="327.20" cy="222.30" r="2.3" fill="#1ee634" stroke="#259a35" stroke-width="0.8"/>
<circle cx="331.02" cy="256.70" r="2.3" fill="#1ee634" stroke="#259a35" stroke-width="0.8"/>
<circle cx="334.85" cy="246.60" r="2.3" fill="#1ee634" stroke="#259a35" stroke-width="0.8"/>
<circle cx="338.68" cy="275.20" r="2.3" fill="#1ee634" stroke="#259a35" stroke-width="0.8"/>
<circle cx="342.51" cy="223.60" r="2.3" fill="#1ee634" stroke="#259a35" stroke-width="0.8"/>
<circle cx="346.33" cy="234.80" r="2.3" fill="#1ee634" stroke="#259a35" stroke-width="0.8"/>
<circle cx="350.16" cy="250.80" r="2.3" fill="#1ee634" stroke="#259a35" stroke-width="0.8"/>
<circle cx="353.99" cy="232.50" r="2.3" fill="#1ee634" stroke="#259a35" stroke-width="0.8"/>
<circle cx="357.81" cy="202.70" r="2.3" fill="#1ee634" stroke="#259a35" stroke-width="0.8"/>
<circle cx="361.64" cy="230.10" r="2.3" fill="#1ee634" stroke="#259a35" stroke-width="0.8"/>
<circle cx="365.47" cy="193.30" r="2.3" fill="#1ee634" stroke="#259a35" stroke-width="0.8"/>
<circle cx="369.30" cy="231.30" r="2.3" fill="#1ee634" stroke="#259a35" stroke-width="0.8"/>
<circle cx="373.12" cy="246.20" r="2.3" fill="#1ee634" stroke="#259a35" stroke-width="0.8"/>
<circle cx="376.95" cy="213.40" r="2.3" fill="#1ee634" stroke="#259a35" stroke-width="0.8"/>
<circle cx="380.78" cy="229.70" r="2.3" fill="#1ee634" stroke="#259a35" stroke-width="0.8"/>
<circle cx="384.60" cy="232.10" r="2.3" fill="#1ee634" stroke="#259a35" stroke-width="0.8"/>
<circle cx="388.43" cy="226.40" r="2.3" fill="#1ee634" stroke="#259a35" stroke-width="0.8"/>
<circle cx="392.26" cy="200.60" r="2.3" fill="#1ee634" stroke="#259a35" stroke-width="0.8"/>
<circle cx="396.09" cy="258.20" r="2.3" fill="#1ee634" stroke="#259a35" stroke-width="0.8"/>
<circle cx="399.91" cy="229.30" r="2.3" fill="#1ee634" stroke="#259a35" stroke-width="0.8"/>
<circle cx="403.74" cy="262.10" r="2.3" fill="#1ee634" stroke="#259a35" stroke-width="0.8"/>
<circle cx="407.57" cy="232.10" r="2.3" fill="#1ee634" stroke="#259a35" stroke-width="0.8"/>
<circle cx="411.39" cy="214.10" r="2.3" fill="#1ee634" stroke="#259a35" stroke-width="0.8"/>
<circle cx="415.22" cy="217.80" r="2.3" fill="#1ee634" stroke="#259a35" stroke-width="0.8"/>
<circle cx="419.05" cy="256.70" r="2.3" fill="#1ee634" stroke="#259a35" stroke-width="0.8"/>
<circle cx="422.88" cy="218.30" r="2.3" fill="#1ee634" stroke="#259a35" stroke-width="0.8"/>
<circle cx="426.70" cy="222.90" r="2.3" fill="#1ee634" stroke="#259a35" stroke-width="0.8"/>
<circle cx="430.53" cy="229.10" r="2.3" fill="#1ee634" stroke="#259a35" stroke-width="0.8"/>
<circle cx="434.36" cy="241.70" r="2.3" fill="#1ee634" stroke="#259a35" stroke-width="0.8"/>
<circle cx="438.18" cy="230.60" r="2.3" fill="#1ee634" stroke="#259a35" stroke-width="0.8"/>
<circle cx="442.01" cy="223.90" r="2.3" fill="#1ee634" stroke="#259a35" stroke-width="0.8"/>
<circle cx="445.84" cy="283.70" r="2.3" fill="#1ee634" stroke="#259a35" stroke-width="0.8"/>
<circle cx="449.67" cy="254.50" r="2.3" fill="#1ee634" stroke="#259a35" stroke-width="0.8"/>
<circle cx="453.49" cy="219.90" r="2.3" fill="#1ee634" stroke="#259a35" stroke-width="0.8"/>
<circle cx="457.32" cy="228.80" r="2.3" fill="#1ee634" stroke="#259a35" stroke-width="0.8"/>
<circle cx="461.15" cy="214.60" r="2.3" fill="#1ee634" stroke="#259a35" stroke-width="0.8"/>
<circle cx="464.97" cy="242.00" r="2.3" fill="#1ee634" stroke="#259a35" stroke-width="0.8"/>
<circle cx="468.80" cy="251.50" r="2.3" fill="#1ee634" stroke="#259a35" stroke-width="0.8"/>
<circle cx="472.63" cy="224.40" r="2.3" fill="#1ee634" stroke="#259a35" stroke-width="0.8"/>
<circle cx="476.46" cy="204.30" r="2.3" fill="#1ee634" stroke="#259a35" stroke-width="0.8"/>
<circle cx="480.28" cy="222.30" r="2.3" fill="#1ee634" stroke="#259a35" stroke-width="0.8"/>
<circle cx="484.11" cy="224.40" r="2.3" fill="#1ee634" stroke="#259a35" stroke-width="0.8"/>
<circle cx="487.94" cy="231.50" r="2.3" fill="#1ee634" stroke="#259a35" stroke-width="0.8"/>
<circle cx="491.77" cy="226.90" r="2.3" fill="#1ee634" stroke="#259a35" stroke-width="0.8"/>
<circle cx="495.59" cy="204.30" r="2.3" fill="#1ee634" stroke="#259a35" stroke-width="0.8"/>
<circle cx="499.42" cy="213.10" r="2.3" fill="#1ee634" stroke="#259a35" stroke-width="0.8"/>
<circle cx="503.25" cy="235.60" r="2.3" fill="#1ee634" stroke="#259a35" stroke-width="0.8"/>
<circle cx="507.07" cy="239.00" r="2.3" fill="#1ee634" stroke="#259a35" stroke-width="0.8"/>
<circle cx="510.90" cy="217.20" r="2.3" fill="#1ee634" stroke="#259a35" stroke-width="0.8"/>
<circle cx="514.73" cy="217.20" r="2.3" fill="#1ee634" stroke="#259a35" stroke-width="0.8"/>
<circle cx="518.56" cy="175.90" r="2.3" fill="#1ee634" stroke="#259a35" stroke-width="0.8"/>
<circle cx="522.38" cy="213.20" r="2.3" fill="#1ee634" stroke="#259a35" stroke-width="0.8"/>
<circle cx="526.21" cy="231.30" r="2.3" fill="#1ee634" stroke="#259a35" stroke-width="0.8"/>
<circle cx="530.04" cy="214.80" r="2.3" fill="#1ee634" stroke="#259a35" stroke-width="0.8"/>
<circle cx="533.86" cy="252.10" r="2.3" fill="#1ee634" stroke="#259a35" stroke-width="0.8"/>
<circle cx="537.69" cy="215.40" r="2.3" fill="#1ee634" stroke="#259a35" stroke-width="0.8"/>
<circle cx="541.52" cy="198.00" r="2.3" fill="#1ee634" stroke="#259a35" stroke-width="0.8"/>
<circle cx="545.35" cy="217.20" r="2.3" fill="#1ee634" stroke="#259a35" stroke-width="0.8"/>
<circle cx="549.17" cy="221.00" r="2.3" fill="#1ee634" stroke="#259a35" stroke-width="0.8"/>
<circle cx="553.00" cy="195.50" r="2.3" fill="#1ee634" stroke="#259a35" stroke-width="0.8"/>
<circle cx="556.83" cy="203.70" r="2.3" fill="#1ee634" stroke="#259a35" stroke-width="0.8"/>
<circle cx="560.65" cy="242.70" r="2.3" fill="#1ee634" stroke="#259a35" stroke-width="0.8"/>
<circle cx="564.48" cy="266.90" r="2.3" fill="#1ee634" stroke="#259a35" stroke-width="0.8"/>
<circle cx="568.31" cy="232.30" r="2.3" fill="#1ee634" stroke="#259a35" stroke-width="0.8"/>
<circle cx="572.14" cy="220.30" r="2.3" fill="#1ee634" stroke="#259a35" stroke-width="0.8"/>
<circle cx="575.96" cy="213.90" r="2.3" fill="#1ee634" stroke="#259a35" stroke-width="0.8"/>
<circle cx="579.79" cy="215.20" r="2.3" fill="#1ee634" stroke="#259a35" stroke-width="0.8"/>
<circle cx="583.62" cy="225.80" r="2.3" fill="#1ee634" stroke="#259a35" stroke-width="0.8"/>
<circle cx="587.44" cy="215.60" r="2.3" fill="#1ee634" stroke="#259a35" stroke-width="0.8"/>
<circle cx="591.27" cy="215.40" r="2.3" fill="#1ee634" stroke="#259a35" stroke-width="0.8"/>
<circle cx="595.10" cy="213.20" r="2.3" fill="#1ee634" stroke="#259a35" stroke-width="0.8"/>
<circle cx="598.93" cy="216.40" r="2.3" fill="#1ee634" stroke="#259a35" stroke-width="0.8"/>
<circle cx="602.75" cy="193.90" r="2.3" fill="#1ee634" stroke="#259a35" stroke-width="0.8"/>
<circle cx="606.58" cy="226.90" r="2.3" fill="#1ee634" stroke="#259a35" stroke-width="0.8"/>
<circle cx="610.41" cy="218.50" r="2.3" fill="#1ee634" stroke="#259a35" stroke-width="0.8"/>
<circle cx="614.23" cy="241.10" r="2.3" fill="#1ee634" stroke="#259a35" stroke-width="0.8"/>
<circle cx="618.06" cy="246.70" r="2.3" fill="#1ee634" stroke="#259a35" stroke-width="0.8"/>
<circle cx="621.89" cy="231.00" r="2.3" fill="#1ee634" stroke="#259a35" stroke-width="0.8"/>
<circle cx="625.72" cy="195.20" r="2.3" fill="#1ee634" stroke="#259a35" stroke-width="0.8"/>
<circle cx="629.54" cy="216.40" r="2.3" fill="#1ee634" stroke="#259a35" stroke-width="0.8"/>
<circle cx="633.37" cy="228.50" r="2.3" fill="#1ee634" stroke="#259a35" stroke-width="0.8"/>
<circle cx="637.20" cy="243.30" r="2.3" fill="#1ee634" stroke="#259a35" stroke-width="0.8"/>
<circle cx="641.02" cy="251.40" r="2.3" fill="#1ee634" stroke="#259a35" stroke-width="0.8"/>
<circle cx="644.85" cy="206.00" r="2.3" fill="#1ee634" stroke="#259a35" stroke-width="0.8"/>
<circle cx="648.68" cy="215.60" r="2.3" fill="#1ee634" stroke="#259a35" stroke-width="0.8"/>
<circle cx="652.51" cy="238.90" r="2.3" fill="#1ee634" stroke="#259a35" stroke-width="0.8"/>
<circle cx="656.33" cy="237.90" r="2.3" fill="#1ee634" stroke="#259a35" stroke-width="0.8"/>
<circle cx="660.16" cy="219.50" r="2.3" fill="#1ee634" stroke="#259a35" stroke-width="0.8"/>
<circle cx="663.99" cy="216.00" r="2.3" fill="#1ee634" stroke="#259a35" stroke-width="0.8"/>
<circle cx="667.81" cy="222.60" r="2.3" fill="#1ee634" stroke="#259a35" stroke-width="0.8"/>
<circle cx="671.64" cy="255.30" r="2.3" fill="#1ee634" stroke="#259a35" stroke-width="0.8"/>
<circle cx="675.47" cy="166.40" r="2.3" fill="#1ee634" stroke="#259a35" stroke-width="0.8"/>
<circle cx="679.30" cy="236.30" r="2.3" fill="#1ee634" stroke="#259a35" stroke-width="0.8"/>
<circle cx="683.12" cy="225.10" r="2.3" fill="#1ee634" stroke="#259a35" stroke-width="0.8"/>
<circle cx="686.95" cy="227.30" r="2.3" fill="#1ee634" stroke="#259a35" stroke-width="0.8"/>
<circle cx="690.78" cy="217.00" r="2.3" fill="#1ee634" stroke="#259a35" stroke-width="0.8"/>
<circle cx="694.60" cy="199.90" r="2.3" fill="#1ee634" stroke="#259a35" stroke-width="0.8"/>
<circle cx="698.43" cy="232.70" r="2.3" fill="#1ee634" stroke="#259a35" stroke-width="0.8"/>
<circle cx="702.26" cy="215.30" r="2.3" fill="#1ee634" stroke="#259a35" stroke-width="0.8"/>
<circle cx="706.09" cy="225.90" r="2.3" fill="#1ee634" stroke="#259a35" stroke-width="0.8"/>
<polyline points="47.81,57.20 51.64,21.70 55.47,33.80 59.30,51.90 63.12,53.70 66.95,54.70 70.78,25.80 74.60,32.50 78.43,32.90 82.26,47.70 86.09,51.50 89.91,33.80 93.74,40.50 97.57,40.80 101.39,45.20 105.22,40.10 109.05,15.20 112.88,44.60 116.70,38.20 120.53,22.60 124.36,30.60 128.18,33.40 132.01,27.40 135.84,31.60 139.67,14.40 143.49,10.30 147.32,43.30 151.15,25.50 154.97,18.60 158.80,33.40 162.63,13.90 166.46,44.80 170.28,26.60 174.11,24.00 177.94,27.40 181.76,24.50 185.59,24.90 189.42,35.10 193.25,29.30 197.07,31.20 200.90,33.40 204.73,32.90 208.55,32.90 212.38,30.00 216.21,36.30 220.04,31.60 223.86,29.10 227.69,17.70 231.52,21.50 235.34,30.00 239.17,26.20 243.00,48.40 246.83,26.60 250.65,32.50 254.48,19.50 258.31,29.60 262.13,30.60 265.96,36.70 269.79,23.60 273.62,25.50 277.44,46.50 281.27,29.10 285.10,31.60 288.93,19.50 292.75,25.50 296.58,26.20 300.41,34.20 304.23,17.70 308.06,34.70 311.89,32.90 315.72,29.60 319.54,24.50 323.37,22.40 327.20,27.10 331.02,54.70 334.85,26.20 338.68,44.60 342.51,29.60 346.33,17.70 350.16,34.40 353.99,19.50 357.81,15.70 361.64,25.80 365.47,22.40 369.30,27.40 373.12,33.40 376.95,26.20 380.78,30.40 384.60,21.70 388.43,30.90 392.26,26.60 396.09,51.90 399.91,30.40 403.74,38.50 407.57,27.40 411.39,31.60 415.22,23.60 419.05,45.80 422.88,28.70 426.70,23.00 430.53,31.90 434.36,30.00 438.18,30.00 442.01,21.10 445.84,35.40 449.67,35.70 453.49,18.20 457.32,32.50 461.15,34.20 464.97,24.00 468.80,32.10 472.63,31.20 476.46,20.70 480.28,27.80 484.11,28.10 487.94,27.80 491.77,25.50 495.59,37.60 499.42,16.70 503.25,28.70 507.07,35.90 510.90,22.40 514.73,22.80 518.56,22.40 522.38,39.20 526.21,33.40 530.04,23.60 533.86,22.80 537.69,24.50 541.52,12.60 545.35,23.00 549.17,19.00 553.00,29.60 556.83,37.20 560.65,47.30 564.48,38.90 568.31,32.50 572.14,27.40 575.96,27.10 579.79,32.30 583.62,30.90 587.44,32.50 591.27,29.30 595.10,28.10 598.93,31.60 602.75,29.30 606.58,31.20 610.41,31.60 614.23,59.80 618.06,30.00 621.89,19.50 625.72,20.50 629.54,31.60 633.37,27.40 637.20,47.10 641.02,27.80 644.85,19.80 648.68,29.30 652.51,21.50 656.33,32.50 660.16,44.40 663.99,24.00 667.81,21.80 671.64,29.40 675.47,16.40 679.30,34.20 683.12,33.40 686.95,27.10 690.78,25.60 694.60,15.70 698.43,28.40 702.26,27.10 706.09,30.40" fill="none" stroke="#ee1111" stroke-width="1.1" stroke-linejoin="round"/>
<path d="M47.81 54.60L50.31 59.40L45.31 59.40ZM51.64 19.10L54.14 23.90L49.14 23.90ZM55.47 31.20L57.97 36.00L52.97 36.00ZM59.30 49.30L61.80 54.10L56.80 54.10ZM63.12 51.10L65.62 55.90L60.62 55.90ZM66.95 52.10L69.45 56.90L64.45 56.90ZM70.78 23.20L73.28 28.00L68.28 28.00ZM74.60 29.90L77.10 34.70L72.10 34.70ZM78.43 30.30L80.93 35.10L75.93 35.10ZM82.26 45.10L84.76 49.90L79.76 49.90ZM86.09 48.90L88.59 53.70L83.59 53.70ZM89.91 31.20L92.41 36.00L87.41 36.00ZM93.74 37.90L96.24 42.70L91.24 42.70ZM97.57 38.20L100.07 43.00L95.07 43.00ZM101.39 42.60L103.89 47.40L98.89 47.40ZM105.22 37.50L107.72 42.30L102.72 42.30ZM109.05 12.60L111.55 17.40L106.55 17.40ZM112.88 42.00L115.38 46.80L110.38 46.80ZM116.70 35.60L119.20 40.40L114.20 40.40ZM120.53 20.00L123.03 24.80L118.03 24.80ZM124.36 28.00L126.86 32.80L121.86 32.80ZM128.18 30.80L130.68 35.60L125.68 35.60ZM132.01 24.80L134.51 29.60L129.51 29.60ZM135.84 29.00L138.34 33.80L133.34 33.80ZM139.67 11.80L142.17 16.60L137.17 16.60ZM143.49 7.70L145.99 12.50L140.99 12.50ZM147.32 40.70L149.82 45.50L144.82 45.50ZM151.15 22.90L153.65 27.70L148.65 27.70ZM154.97 16.00L157.47 20.80L152.47 20.80ZM158.80 30.80L161.30 35.60L156.30 35.60ZM162.63 11.30L165.13 16.10L160.13 16.10ZM166.46 42.20L168.96 47.00L163.96 47.00ZM170.28 24.00L172.78 28.80L167.78 28.80ZM174.11 21.40L176.61 26.20L171.61 26.20ZM177.94 24.80L180.44 29.60L175.44 29.60ZM181.76 21.90L184.26 26.70L179.26 26.70ZM185.59 22.30L188.09 27.10L183.09 27.10ZM189.42 32.50L191.92 37.30L186.92 37.30ZM193.25 26.70L195.75 31.50L190.75 31.50ZM197.07 28.60L199.57 33.40L194.57 33.40ZM200.90 30.80L203.40 35.60L198.40 35.60ZM204.73 30.30L207.23 35.10L202.23 35.10ZM208.55 30.30L211.05 35.10L206.05 35.10ZM212.38 27.40L214.88 32.20L209.88 32.20ZM216.21 33.70L218.71 38.50L213.71 38.50ZM220.04 29.00L222.54 33.80L217.54 33.80ZM223.86 26.50L226.36 31.30L221.36 31.30ZM227.69 15.10L230.19 19.90L225.19 19.90ZM231.52 18.90L234.02 23.70L229.02 23.70ZM235.34 27.40L237.84 32.20L232.84 32.20ZM239.17 23.60L241.67 28.40L236.67 28.40ZM243.00 45.80L245.50 50.60L240.50 50.60ZM246.83 24.00L249.33 28.80L244.33 28.80ZM250.65 29.90L253.15 34.70L248.15 34.70ZM254.48 16.90L256.98 21.70L251.98 21.70ZM258.31 27.00L260.81 31.80L255.81 31.80ZM262.13 28.00L264.63 32.80L259.63 32.80ZM265.96 34.10L268.46 38.90L263.46 38.90ZM269.79 21.00L272.29 25.80L267.29 25.80ZM273.62 22.90L276.12 27.70L271.12 27.70ZM277.44 43.90L279.94 48.70L274.94 48.70ZM281.27 26.50L283.77 31.30L278.77 31.30ZM285.10 29.00L287.60 33.80L282.60 33.80ZM288.93 16.90L291.43 21.70L286.43 21.70ZM292.75 22.90L295.25 27.70L290.25 27.70ZM296.58 23.60L299.08 28.40L294.08 28.40ZM300.41 31.60L302.91 36.40L297.91 36.40ZM304.23 15.10L306.73 19.90L301.73 19.90ZM308.06 32.10L310.56 36.90L305.56 36.90ZM311.89 30.30L314.39 35.10L309.39 35.10ZM315.72 27.00L318.22 31.80L313.22 31.80ZM319.54 21.90L322.04 26.70L317.04 26.70ZM323.37 19.80L325.87 24.60L320.87 24.60ZM327.20 24.50L329.70 29.30L324.70 29.30ZM331.02 52.10L333.52 56.90L328.52 56.90ZM334.85 23.60L337.35 28.40L332.35 28.40ZM338.68 42.00L341.18 46.80L336.18 46.80ZM342.51 27.00L345.01 31.80L340.01 31.80ZM346.33 15.10L348.83 19.90L343.83 19.90ZM350.16 31.80L352.66 36.60L347.66 36.60ZM353.99 16.90L356.49 21.70L351.49 21.70ZM357.81 13.10L360.31 17.90L355.31 17.90ZM361.64 23.20L364.14 28.00L359.14 28.00ZM365.47 19.80L367.97 24.60L362.97 24.60ZM369.30 24.80L371.80 29.60L366.80 29.60ZM373.12 30.80L375.62 35.60L370.62 35.60ZM376.95 23.60L379.45 28.40L374.45 28.40ZM380.78 27.80L383.28 32.60L378.28 32.60ZM384.60 19.10L387.10 23.90L382.10 23.90ZM388.43 28.30L390.93 33.10L385.93 33.10ZM392.26 24.00L394.76 28.80L389.76 28.80ZM396.09 49.30L398.59 54.10L393.59 54.10ZM399.91 27.80L402.41 32.60L397.41 32.60ZM403.74 35.90L406.24 40.70L401.24 40.70ZM407.57 24.80L410.07 29.60L405.07 29.60ZM411.39 29.00L413.89 33.80L408.89 33.80ZM415.22 21.00L417.72 25.80L412.72 25.80ZM419.05 43.20L421.55 48.00L416.55 48.00ZM422.88 26.10L425.38 30.90L420.38 30.90ZM426.70 20.40L429.20 25.20L424.20 25.20ZM430.53 29.30L433.03 34.10L428.03 34.10ZM434.36 27.40L436.86 32.20L431.86 32.20ZM438.18 27.40L440.68 32.20L435.68 32.20ZM442.01 18.50L444.51 23.30L439.51 23.30ZM445.84 32.80L448.34 37.60L443.34 37.60ZM449.67 33.10L452.17 37.90L447.17 37.90ZM453.49 15.60L455.99 20.40L450.99 20.40ZM457.32 29.90L459.82 34.70L454.82 34.70ZM461.15 31.60L463.65 36.40L458.65 36.40ZM464.97 21.40L467.47 26.20L462.47 26.20ZM468.80 29.50L471.30 34.30L466.30 34.30ZM472.63 28.60L475.13 33.40L470.13 33.40ZM476.46 18.10L478.96 22.90L473.96 22.90ZM480.28 25.20L482.78 30.00L477.78 30.00ZM484.11 25.50L486.61 30.30L481.61 30.30ZM487.94 25.20L490.44 30.00L485.44 30.00ZM491.77 22.90L494.27 27.70L489.27 27.70ZM495.59 35.00L498.09 39.80L493.09 39.80ZM499.42 14.10L501.92 18.90L496.92 18.90ZM503.25 26.10L505.75 30.90L500.75 30.90ZM507.07 33.30L509.57 38.10L504.57 38.10ZM510.90 19.80L513.40 24.60L508.40 24.60ZM514.73 20.20L517.23 25.00L512.23 25.00ZM518.56 19.80L521.06 24.60L516.06 24.60ZM522.38 36.60L524.88 41.40L519.88 41.40ZM526.21 30.80L528.71 35.60L523.71 35.60ZM530.04 21.00L532.54 25.80L527.54 25.80ZM533.86 20.20L536.36 25.00L531.36 25.00ZM537.69 21.90L540.19 26.70L535.19 26.70ZM541.52 10.00L544.02 14.80L539.02 14.80ZM545.35 20.40L547.85 25.20L542.85 25.20ZM549.17 16.40L551.67 21.20L546.67 21.20ZM553.00 27.00L555.50 31.80L550.50 31.80ZM556.83 34.60L559.33 39.40L554.33 39.40ZM560.65 44.70L563.15 49.50L558.15 49.50ZM564.48 36.30L566.98 41.10L561.98 41.10ZM568.31 29.90L570.81 34.70L565.81 34.70ZM572.14 24.80L574.64 29.60L569.64 29.60ZM575.96 24.50L578.46 29.30L573.46 29.30ZM579.79 29.70L582.29 34.50L577.29 34.50ZM583.62 28.30L586.12 33.10L581.12 33.10ZM587.44 29.90L589.94 34.70L584.94 34.70ZM591.27 26.70L593.77 31.50L588.77 31.50ZM595.10 25.50L597.60 30.30L592.60 30.30ZM598.93 29.00L601.43 33.80L596.43 33.80ZM602.75 26.70L605.25 31.50L600.25 31.50ZM606.58 28.60L609.08 33.40L604.08 33.40ZM610.41 29.00L612.91 33.80L607.91 33.80ZM614.23 57.20L616.73 62.00L611.73 62.00ZM618.06 27.40L620.56 32.20L615.56 32.20ZM621.89 16.90L624.39 21.70L619.39 21.70ZM625.72 17.90L628.22 22.70L623.22 22.70ZM629.54 29.00L632.04 33.80L627.04 33.80ZM633.37 24.80L635.87 29.60L630.87 29.60ZM637.20 44.50L639.70 49.30L634.70 49.30ZM641.02 25.20L643.52 30.00L638.52 30.00ZM644.85 17.20L647.35 22.00L642.35 22.00ZM648.68 26.70L651.18 31.50L646.18 31.50ZM652.51 18.90L655.01 23.70L650.01 23.70ZM656.33 29.90L658.83 34.70L653.83 34.70ZM660.16 41.80L662.66 46.60L657.66 46.60ZM663.99 21.40L666.49 26.20L661.49 26.20ZM667.81 19.20L670.31 24.00L665.31 24.00ZM671.64 26.80L674.14 31.60L669.14 31.60ZM675.47 13.80L677.97 18.60L672.97 18.60ZM679.30 31.60L681.80 36.40L676.80 36.40ZM683.12 30.80L685.62 35.60L680.62 35.60ZM686.95 24.50L689.45 29.30L684.45 29.30ZM690.78 23.00L693.28 27.80L688.28 27.80ZM694.60 13.10L697.10 17.90L692.10 17.90ZM698.43 25.80L700.93 30.60L695.93 30.60ZM702.26 24.50L704.76 29.30L699.76 29.30ZM706.09 27.80L708.59 32.60L703.59 32.60Z" fill="#f80000" stroke="#cc0000" stroke-width="0.5"/>
<polyline points="46.50,310.70 47.80,310.60 51.60,310.10 55.50,308.80 58.60,306.30 62.40,300.60 63.90,292.10 65.50,270.70 67.00,258.40 70.10,255.30 74.70,253.50 78.50,244.60 83.90,240.80 90.60,236.80 100.00,236.60 107.00,234.50 114.10,232.00 121.20,230.30 128.20,228.60 135.30,226.70 142.30,224.60 149.40,222.50 156.40,221.10 163.50,220.10 170.50,219.30 177.60,218.70 184.60,218.00 191.70,217.60 200.00,216.90 214.40,215.20 232.80,213.90 251.20,212.10 264.70,210.20 272.00,209.40 296.50,208.50 321.00,207.20 329.70,207.00 334.60,205.50 348.00,205.00 384.80,203.30 409.30,201.50 426.00,200.70 460.80,198.40 479.20,196.90 502.00,195.50 524.50,193.90 549.00,192.10 563.80,190.20 578.00,189.80 600.50,189.00 625.00,188.70 640.00,187.60 650.00,185.90 656.60,183.20 667.30,181.20 670.00,175.20 672.00,170.60 675.30,169.90 677.90,163.20 681.90,154.60 684.60,152.90 687.20,151.90 690.60,146.60 691.90,142.00 692.30,130.00 693.50,95.00 694.50,65.00 695.90,40.00 698.60,7.80 700.00,-10.00" fill="none" stroke="#000" stroke-width="2.1" stroke-linejoin="round"/>
</g>
<text transform="translate(54.01,359.9) rotate(-90)" font-size="17.8" text-anchor="end" fill="#000">Orthotrichum</text>
<rect x="52.11" y="355.65" width="1.9" height="1.9" fill="#000"/>
<rect x="52.11" y="349.75" width="1.9" height="1.9" fill="#000"/>
<rect x="52.11" y="343.85" width="1.9" height="1.9" fill="#000"/>
<text transform="translate(73.15,359.9) rotate(-90)" font-size="17.8" text-anchor="end" fill="#000">Anthoceros</text>
<rect x="71.25" y="355.65" width="1.9" height="1.9" fill="#000"/>
<rect x="71.25" y="349.75" width="1.9" height="1.9" fill="#000"/>
<rect x="71.25" y="343.85" width="1.9" height="1.9" fill="#000"/>
<text transform="translate(92.29,359.9) rotate(-90)" font-size="17.8" text-anchor="end" fill="#000">Taxus mairei</text>
<text transform="translate(111.42,359.9) rotate(-90)" font-size="17.8" text-anchor="end" fill="#000">Juniperus</text>
<rect x="109.52" y="355.65" width="1.9" height="1.9" fill="#000"/>
<rect x="109.52" y="349.75" width="1.9" height="1.9" fill="#000"/>
<rect x="109.52" y="343.85" width="1.9" height="1.9" fill="#000"/>
<text transform="translate(130.56,359.9) rotate(-90)" font-size="17.8" text-anchor="end" fill="#000">Paphiopedilum</text>
<rect x="128.66" y="355.65" width="1.9" height="1.9" fill="#000"/>
<rect x="128.66" y="349.75" width="1.9" height="1.9" fill="#000"/>
<rect x="128.66" y="343.85" width="1.9" height="1.9" fill="#000"/>
<text transform="translate(149.69,359.9) rotate(-90)" font-size="17.8" text-anchor="end" fill="#000">Ophioglossum</text>
<rect x="147.79" y="355.65" width="1.9" height="1.9" fill="#000"/>
<rect x="147.79" y="349.75" width="1.9" height="1.9" fill="#000"/>
<rect x="147.79" y="343.85" width="1.9" height="1.9" fill="#000"/>
<text transform="translate(168.83,359.9) rotate(-90)" font-size="17.8" text-anchor="end" fill="#000">Licania alba</text>
<text transform="translate(187.96,359.9) rotate(-90)" font-size="17.8" text-anchor="end" fill="#000">Nuphar advena</text>
<text transform="translate(207.10,359.9) rotate(-90)" font-size="17.8" text-anchor="end" fill="#000">Habenaria</text>
<rect x="205.20" y="355.65" width="1.9" height="1.9" fill="#000"/>
<rect x="205.20" y="349.75" width="1.9" height="1.9" fill="#000"/>
<rect x="205.20" y="343.85" width="1.9" height="1.9" fill="#000"/>
<text transform="translate(226.24,359.9) rotate(-90)" font-size="17.8" text-anchor="end" fill="#000">Lepidium</text>
<rect x="224.34" y="355.65" width="1.9" height="1.9" fill="#000"/>
<rect x="224.34" y="349.75" width="1.9" height="1.9" fill="#000"/>
<rect x="224.34" y="343.85" width="1.9" height="1.9" fill="#000"/>
<text transform="translate(245.37,359.9) rotate(-90)" font-size="17.8" text-anchor="end" fill="#000">Hibiscus syriacus</text>
<text transform="translate(264.51,359.9) rotate(-90)" font-size="17.8" text-anchor="end" fill="#000">Salix interior</text>
<text transform="translate(283.64,359.9) rotate(-90)" font-size="17.8" text-anchor="end" fill="#000">Pisum sativum</text>
<text transform="translate(302.78,359.9) rotate(-90)" font-size="17.8" text-anchor="end" fill="#000">Fargesia nitida</text>
<text transform="translate(321.92,359.9) rotate(-90)" font-size="17.8" text-anchor="end" fill="#000">Vitis rotundifolia</text>
<text transform="translate(341.05,359.9) rotate(-90)" font-size="17.8" text-anchor="end" fill="#000">Olimarabidopsi</text>
<rect x="339.15" y="355.65" width="1.9" height="1.9" fill="#000"/>
<rect x="339.15" y="349.75" width="1.9" height="1.9" fill="#000"/>
<rect x="339.15" y="343.85" width="1.9" height="1.9" fill="#000"/>
<text transform="translate(360.19,359.9) rotate(-90)" font-size="17.8" text-anchor="end" fill="#000">Vitis vinifera</text>
<text transform="translate(379.32,359.9) rotate(-90)" font-size="17.8" text-anchor="end" fill="#000">Silene</text>
<rect x="377.42" y="355.65" width="1.9" height="1.9" fill="#000"/>
<rect x="377.42" y="349.75" width="1.9" height="1.9" fill="#000"/>
<rect x="377.42" y="343.85" width="1.9" height="1.9" fill="#000"/>
<text transform="translate(398.46,359.9) rotate(-90)" font-size="17.8" text-anchor="end" fill="#000">Larix decidua</text>
<text transform="translate(417.59,359.9) rotate(-90)" font-size="17.8" text-anchor="end" fill="#000">Puelia olyriformis</text>
<text transform="translate(436.73,359.9) rotate(-90)" font-size="17.8" text-anchor="end" fill="#000">Parthenium</text>
<rect x="434.83" y="355.65" width="1.9" height="1.9" fill="#000"/>
<rect x="434.83" y="349.75" width="1.9" height="1.9" fill="#000"/>
<rect x="434.83" y="343.85" width="1.9" height="1.9" fill="#000"/>
<text transform="translate(455.87,359.9) rotate(-90)" font-size="17.8" text-anchor="end" fill="#000">Morus indica</text>
<text transform="translate(475.00,359.9) rotate(-90)" font-size="17.8" text-anchor="end" fill="#000">Lotus japonicus</text>
<text transform="translate(494.14,359.9) rotate(-90)" font-size="17.8" text-anchor="end" fill="#000">Pinguicula</text>
<rect x="492.24" y="355.65" width="1.9" height="1.9" fill="#000"/>
<rect x="492.24" y="349.75" width="1.9" height="1.9" fill="#000"/>
<rect x="492.24" y="343.85" width="1.9" height="1.9" fill="#000"/>
<text transform="translate(513.27,359.9) rotate(-90)" font-size="17.8" text-anchor="end" fill="#000">Lactuca sativa</text>
<text transform="translate(532.41,359.9) rotate(-90)" font-size="17.8" text-anchor="end" fill="#000">Guizotia</text>
<rect x="530.51" y="355.65" width="1.9" height="1.9" fill="#000"/>
<rect x="530.51" y="349.75" width="1.9" height="1.9" fill="#000"/>
<rect x="530.51" y="343.85" width="1.9" height="1.9" fill="#000"/>
<text transform="translate(551.55,359.9) rotate(-90)" font-size="17.8" text-anchor="end" fill="#000">Phragmites</text>
<rect x="549.65" y="355.65" width="1.9" height="1.9" fill="#000"/>
<rect x="549.65" y="349.75" width="1.9" height="1.9" fill="#000"/>
<rect x="549.65" y="343.85" width="1.9" height="1.9" fill="#000"/>
<text transform="translate(570.68,359.9) rotate(-90)" font-size="17.8" text-anchor="end" fill="#000">Millettia pinnata</text>
<text transform="translate(589.82,359.9) rotate(-90)" font-size="17.8" text-anchor="end" fill="#000">Najas flexilis</text>
<text transform="translate(608.95,359.9) rotate(-90)" font-size="17.8" text-anchor="end" fill="#000">Lygodium</text>
<rect x="607.05" y="355.65" width="1.9" height="1.9" fill="#000"/>
<rect x="607.05" y="349.75" width="1.9" height="1.9" fill="#000"/>
<rect x="607.05" y="343.85" width="1.9" height="1.9" fill="#000"/>
<text transform="translate(628.09,359.9) rotate(-90)" font-size="17.8" text-anchor="end" fill="#000">Fragaria</text>
<rect x="626.19" y="355.65" width="1.9" height="1.9" fill="#000"/>
<rect x="626.19" y="349.75" width="1.9" height="1.9" fill="#000"/>
<rect x="626.19" y="343.85" width="1.9" height="1.9" fill="#000"/>
<text transform="translate(647.22,359.9) rotate(-90)" font-size="17.8" text-anchor="end" fill="#000">Arabidopsis</text>
<rect x="645.32" y="355.65" width="1.9" height="1.9" fill="#000"/>
<rect x="645.32" y="349.75" width="1.9" height="1.9" fill="#000"/>
<rect x="645.32" y="343.85" width="1.9" height="1.9" fill="#000"/>
<text transform="translate(666.36,359.9) rotate(-90)" font-size="17.8" text-anchor="end" fill="#000">Nageia nagi</text>
<text transform="translate(685.50,359.9) rotate(-90)" font-size="17.8" text-anchor="end" fill="#000">Jacobaea vulgaris</text>
<text transform="translate(704.63,359.9) rotate(-90)" font-size="17.8" text-anchor="end" fill="#000">Nicotiana</text>
<rect x="702.73" y="355.65" width="1.9" height="1.9" fill="#000"/>
<rect x="702.73" y="349.75" width="1.9" height="1.9" fill="#000"/>
<rect x="702.73" y="343.85" width="1.9" height="1.9" fill="#000"/>
<rect x="269.5" y="295.5" width="326.3" height="40.3" fill="#fff" stroke="#000" stroke-width="1"/>
<line x1="296.8" y1="315.5" x2="314.1" y2="315.5" stroke="#1c1ce0" stroke-width="1.1"/>
<path d="M305.5 313.1L308.0 315.5L305.5 317.9L303.0 315.5Z" fill="#1414c8"/>
<text x="315.5" y="320.3" font-size="15" fill="#000">gene</text>
<line x1="370.4" y1="315.5" x2="386.9" y2="315.5" stroke="#40e040" stroke-width="1.1"/>
<circle cx="378.8" cy="315.5" r="2.2" fill="#22dd33" stroke="#2aa83a" stroke-width="0.6"/>
<text x="388.0" y="320.3" font-size="15" fill="#000">junk</text>
<line x1="441.4" y1="315.5" x2="460" y2="315.5" stroke="#ee1111" stroke-width="1.1"/>
<path d="M450.3 312.8L453.1 317.6L447.5 317.6Z" fill="#f00"/>
<text x="460.8" y="320.3" font-size="15" fill="#000">tail</text>
<line x1="506.1" y1="315.5" x2="523.4" y2="315.5" stroke="#000" stroke-width="2.1"/>
<text x="525.2" y="320.3" font-size="15" fill="#000">genome</text>
</svg></body></html>
